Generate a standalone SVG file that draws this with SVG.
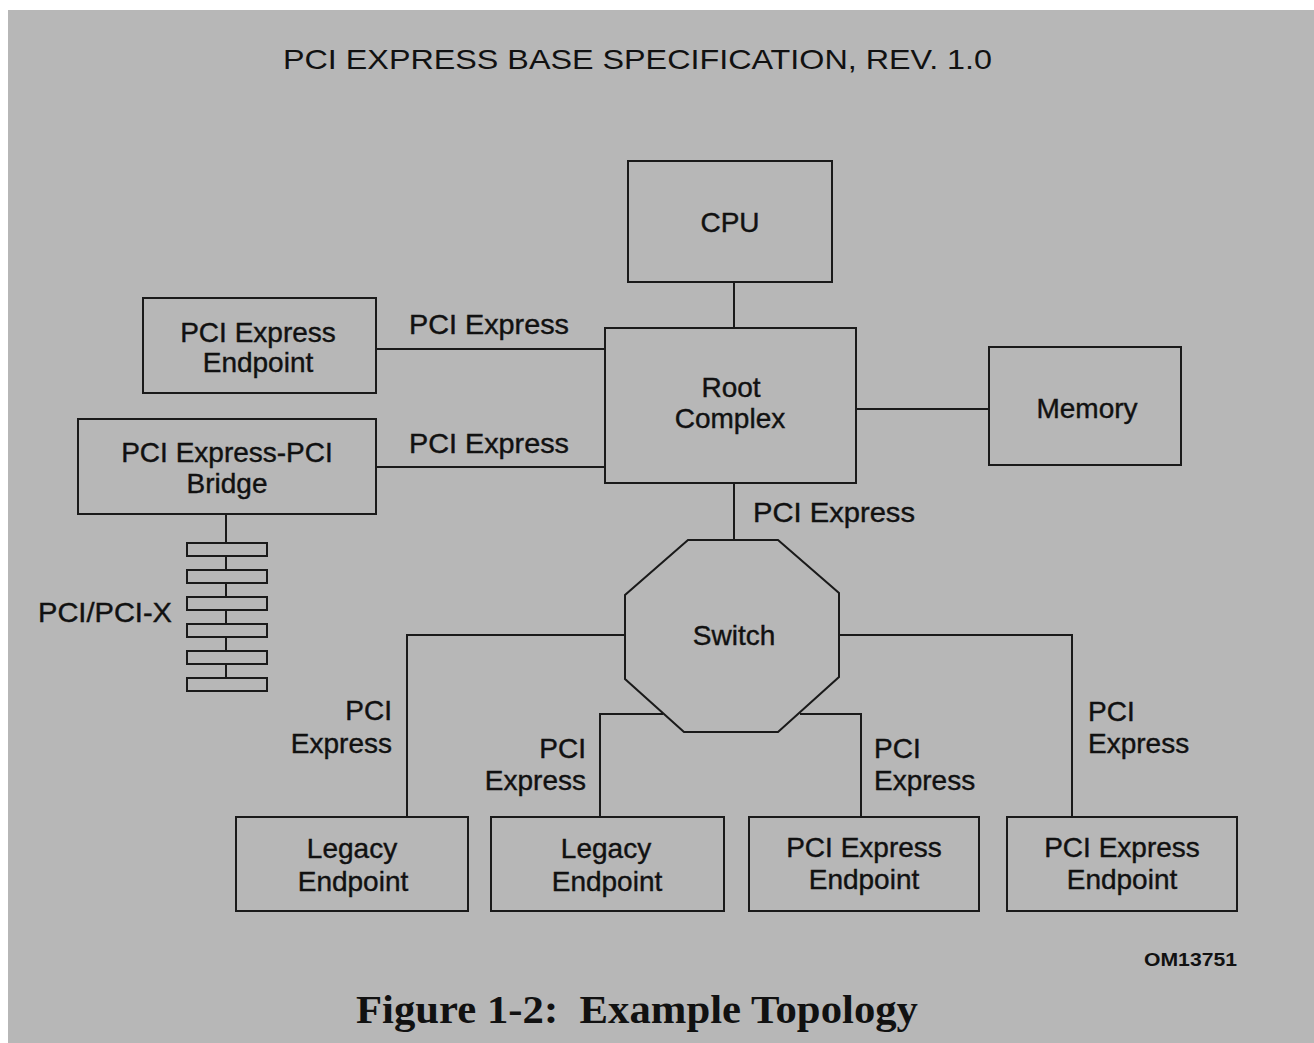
<svg xmlns="http://www.w3.org/2000/svg" width="1314" height="1043" viewBox="0 0 1314 1043">
<style>
.box{fill:none;stroke:#1a1a1a;stroke-width:2}
.rung{fill:#b7b7b7;stroke:#1a1a1a;stroke-width:2}
.ln{fill:none;stroke:#1a1a1a;stroke-width:2}
text{font-family:"Liberation Sans",Arial,sans-serif;font-size:28px;fill:#111;stroke:#111;stroke-width:0.4}
.c{text-anchor:middle}
.e{text-anchor:end}
</style>
<rect x="0" y="0" width="1314" height="1043" fill="#ffffff"/>
<rect x="8" y="10" width="1306" height="1033" fill="#b7b7b7"/>
<text x="283" y="69" textLength="709" lengthAdjust="spacingAndGlyphs" style="stroke-width:0">PCI EXPRESS BASE SPECIFICATION, REV. 1.0</text>

<g id="connectors">
<line class="ln" x1="734" y1="282" x2="734" y2="328"/>
<line class="ln" x1="376" y1="349" x2="605" y2="349"/>
<line class="ln" x1="376" y1="467" x2="605" y2="467"/>
<line class="ln" x1="856" y1="409" x2="989" y2="409"/>
<line class="ln" x1="734" y1="483" x2="734" y2="540"/>
<polyline class="ln" points="625,635 407,635 407,817"/>
<polyline class="ln" points="663,714 600,714 600,817"/>
<polyline class="ln" points="839,635 1072,635 1072,817"/>
<polyline class="ln" points="800,714 861,714 861,817"/>
<line class="ln" x1="226" y1="514" x2="226" y2="678"/>
</g>

<g id="pci-bus">
<rect class="rung" x="187" y="543" width="80" height="13"/>
<rect class="rung" x="187" y="570" width="80" height="13"/>
<rect class="rung" x="187" y="597" width="80" height="13"/>
<rect class="rung" x="187" y="624" width="80" height="13"/>
<rect class="rung" x="187" y="651" width="80" height="13"/>
<rect class="rung" x="187" y="678" width="80" height="13"/>
<text x="38" y="622" textLength="134" lengthAdjust="spacingAndGlyphs">PCI/PCI-X</text>
</g>

<g id="labels">
<text x="409" y="334" textLength="160" lengthAdjust="spacingAndGlyphs">PCI Express</text>
<text x="409" y="453" textLength="160" lengthAdjust="spacingAndGlyphs">PCI Express</text>
<text x="753" y="522" textLength="162" lengthAdjust="spacingAndGlyphs">PCI Express</text>
<text class="e" x="392" y="720">PCI</text>
<text class="e" x="392" y="753">Express</text>
<text class="e" x="586" y="758">PCI</text>
<text class="e" x="586" y="790">Express</text>
<text x="874" y="758">PCI</text>
<text x="874" y="790">Express</text>
<text x="1088" y="721">PCI</text>
<text x="1088" y="753">Express</text>
</g>

<g id="cpu">
<rect class="box" x="628" y="161" width="204" height="121"/>
<text class="c" x="730" y="232">CPU</text>
</g>
<g id="root-complex">
<rect class="box" x="605" y="328" width="251" height="155"/>
<text class="c" x="731" y="397">Root</text>
<text class="c" x="730" y="428">Complex</text>
</g>
<g id="memory">
<rect class="box" x="989" y="347" width="192" height="118"/>
<text class="c" x="1087" y="418">Memory</text>
</g>
<g id="pcie-endpoint-top">
<rect class="box" x="143" y="298" width="233" height="95"/>
<text class="c" x="258" y="342">PCI Express</text>
<text class="c" x="258" y="372">Endpoint</text>
</g>
<g id="bridge">
<rect class="box" x="78" y="419" width="298" height="95"/>
<text class="c" x="227" y="462">PCI Express-PCI</text>
<text class="c" x="227" y="493">Bridge</text>
</g>
<g id="switch">
<polygon class="box" points="688,540 778,540 839,593 839,677 778,732 684,732 625,679 625,595"/>
<text class="c" x="734" y="645">Switch</text>
</g>
<g id="legacy-1">
<rect class="box" x="236" y="817" width="232" height="94"/>
<text class="c" x="352" y="858">Legacy</text>
<text class="c" x="353" y="891">Endpoint</text>
</g>
<g id="legacy-2">
<rect class="box" x="491" y="817" width="233" height="94"/>
<text class="c" x="606" y="858">Legacy</text>
<text class="c" x="607" y="891">Endpoint</text>
</g>
<g id="pcie-endpoint-1">
<rect class="box" x="749" y="817" width="230" height="94"/>
<text class="c" x="864" y="857">PCI Express</text>
<text class="c" x="864" y="889">Endpoint</text>
</g>
<g id="pcie-endpoint-2">
<rect class="box" x="1007" y="817" width="230" height="94"/>
<text class="c" x="1122" y="857">PCI Express</text>
<text class="c" x="1122" y="889">Endpoint</text>
</g>

<text x="1144" y="966" style="font-size:19px;font-weight:bold;stroke-width:0" textLength="93" lengthAdjust="spacingAndGlyphs">OM13751</text>
<text x="356" y="1023" style="font-family:'Liberation Serif','Times New Roman',serif;font-size:41px;font-weight:bold;stroke-width:0" textLength="562" lengthAdjust="spacingAndGlyphs" xml:space="preserve">Figure 1-2:  Example Topology</text>
</svg>
